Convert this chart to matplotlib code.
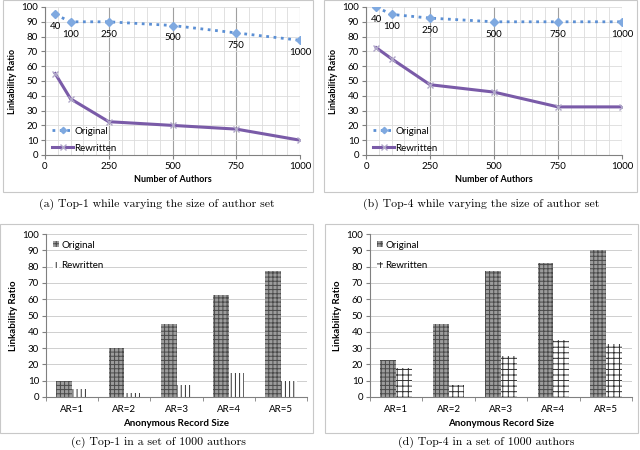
"""
Linkability ratio: original vs rewritten texts, four panels.
"""

import matplotlib
matplotlib.use('Agg')
import matplotlib.pyplot as plt
from matplotlib.patches import Rectangle

plt.rcParams['font.family'] = ['Lato', 'DejaVu Sans']
plt.rcParams['hatch.linewidth'] = 0.7

# number of authors (panels a, b)
authors = [40, 100, 250, 500, 750, 1000]
top1_orig = [95, 90, 90, 87.5, 82.5, 77.5]
top1_rew = [55, 38, 22.5, 20, 17.5, 10]
top4_orig = [100, 95, 92.5, 90, 90, 90]
top4_rew = [72.5, 65, 47.5, 42.5, 32.5, 32.5]

# anonymous record size (panels c, d)
ar_labels = ['AR=1', 'AR=2', 'AR=3', 'AR=4', 'AR=5']
ar_top1_orig = [10, 30, 45, 62.5, 77.5]
ar_top1_rew = [5, 2.5, 7.5, 14.5, 10]
ar_top4_orig = [22.5, 45, 77.5, 82.5, 90]
ar_top4_rew = [17.5, 7.5, 25, 35, 32.5]

captions = ['(a) Top-1 while varying the size of author set',
            '(b) Top-4 while varying the size of author set',
            '(c) Top-1 in a set of 1000 authors',
            '(d) Top-4 in a set of 1000 authors']

W, H = 640, 450
fig = plt.figure(figsize=(6.4, 4.5), dpi=100)


def fx(px):
    return px / W


def fy(py):
    return 1 - py / H


# panel frames
for x0, y0, x1, y1 in [(3, 0, 313, 192), (324, 0, 637, 192),
                       (0, 224, 313, 433), (325, 224, 638, 433)]:
    fig.patches.append(Rectangle((fx(x0), fy(y1)), fx(x1 - x0), (y1 - y0) / H,
                                 transform=fig.transFigure, fill=False,
                                 edgecolor='#c8c8c8', lw=0.8))

blue = '#5B8FD4'
purple = '#7A5BA8'


def line_panel(rect, orig, rew):
    ax = fig.add_axes(rect)
    ax.plot(authors, orig, ':', color=blue, lw=2, marker='D', ms=4,
            mfc='#7FA9E0', mec='#7FA9E0', label='Original')
    ax.plot(authors, rew, '-', color=purple, lw=2.2, marker='x', ms=5,
            mec='#B0A8C8', mew=1, label='Rewritten')
    for xv, yv in zip(authors, orig):
        ax.annotate(str(xv), (xv, yv), textcoords='offset points', xytext=(0, -9),
                    ha='center', va='center', fontsize=7)
    ax.set_xlim(0, 1000)
    ax.set_ylim(0, 100)
    ax.set_xticks([0, 250, 500, 750, 1000])
    ax.set_xticks(range(0, 1001, 50), minor=True)
    ax.set_yticks(range(0, 101, 10))
    ax.grid(axis='x', which='major', color='#a0a0a0', lw=0.8)
    ax.grid(axis='x', which='minor', color='#dcdcdc', lw=0.6)
    ax.grid(axis='y', which='major', color='#dcdcdc', lw=0.6)
    ax.set_axisbelow(True)
    ax.tick_params(labelsize=7, length=3, color='#808080', pad=2)
    ax.tick_params(which='minor', length=0)
    for s in ['top', 'right']:
        ax.spines[s].set_visible(False)
    for s in ['left', 'bottom']:
        ax.spines[s].set_color('#808080')
    ax.set_ylabel('Linkability Ratio', fontsize=6.5, fontweight='bold', labelpad=3)
    ax.set_xlabel('Number of Authors', fontsize=6.5, fontweight='bold', labelpad=3)
    ax.legend(loc='lower left', bbox_to_anchor=(0.0, -0.03), frameon=False,
              fontsize=7, handlelength=2.2, handletextpad=0.1, labelspacing=0.8,
              borderaxespad=0.3, markerscale=0.8)
    return ax


def bar_panel(rect, orig, rew, rew_hatch):
    ax = fig.add_axes(rect)
    pos = range(len(ar_labels))
    ax.bar([p - 0.15 for p in pos], orig, width=0.3, color='#9c9c9c',
           edgecolor='#4a4a4a', hatch='++++', lw=0, label='Original')
    ax.bar([p + 0.15 for p in pos], rew, width=0.3, color='white',
           edgecolor='#303030', hatch=rew_hatch, lw=0, label='Rewritten')
    ax.set_xlim(-0.5, len(ar_labels) - 0.5)
    ax.set_ylim(0, 100)
    ax.set_yticks(range(0, 101, 10))
    ax.set_xticks(list(pos))
    ax.set_xticklabels(ar_labels)
    ax.set_xticks([p + 0.5 for p in range(-1, len(ar_labels))], minor=True)
    ax.grid(axis='y', color='#c8c8c8', lw=0.6)
    ax.set_axisbelow(True)
    ax.tick_params(labelsize=7, length=3, color='#808080', pad=2)
    ax.tick_params(axis='x', which='major', length=0, pad=6)
    ax.tick_params(axis='x', which='minor', length=3, color='#808080')
    for s in ['top', 'right']:
        ax.spines[s].set_visible(False)
    for s in ['left', 'bottom']:
        ax.spines[s].set_color('#808080')
    ax.set_ylabel('Linkability Ratio', fontsize=7, fontweight='bold', labelpad=3)
    ax.set_xlabel('Anonymous Record Size', fontsize=7, fontweight='bold', labelpad=3)
    ax.legend(loc='upper left', frameon=False, fontsize=7, handlelength=0.6,
              handleheight=0.6, handletextpad=0.3, labelspacing=1.2,
              borderaxespad=0.3)
    return ax


line_panel([fx(45), fy(155), fx(255), 148 / H], top1_orig, top1_rew)
line_panel([fx(366), fy(155), fx(256), 148 / H], top4_orig, top4_rew)
bar_panel([fx(46), fy(397), fx(261), 163 / H], ar_top1_orig, ar_top1_rew, '||||')
bar_panel([fx(370), fy(397), fx(262), 163 / H], ar_top4_orig, ar_top4_rew, '+++')

for (cx, cy), txt in zip([(157, 204), (481, 204), (158, 442), (486, 442)], captions):
    fig.text(fx(cx), fy(cy), txt, ha='center', va='center', fontsize=8.5,
             family='cmr10')

fig.savefig('out.png', dpi=100)
